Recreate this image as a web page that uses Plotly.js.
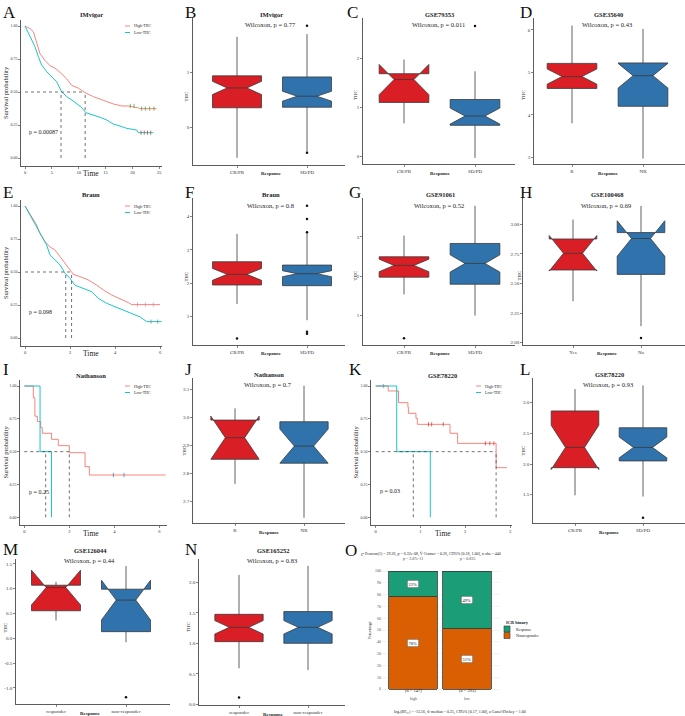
<!DOCTYPE html>
<html><head><meta charset="utf-8">
<script src="https://cdn.plot.ly/plotly-3.0.1.min.js"></script>
<style>html,body{margin:0;padding:0;background:#fff}#chart{width:685px;height:716px}</style>
</head><body><div id="chart"></div>
<script>
// ================= DATA =================
const kmGroups = ['High-TIIC','Low-TIIC'];
// A: IMvigor survival
const imHighT=[0,0.93,1.55,2.17,2.8,3.7,4.65,5.6,6.5,7.75,8.7,9.9,11.2,12.7,14,15.2,16.4,18,19.2,21.1,21.4,24.5];
const imHighS=[1,0.98,0.957,0.87,0.79,0.74,0.70,0.68,0.65,0.60,0.55,0.53,0.495,0.465,0.447,0.427,0.41,0.394,0.394,0.38,0.374,0.374];
const imLowT=[0,0.62,1.24,1.86,2.48,3.1,4.03,4.96,5.9,6.8,7.75,8.7,9.6,10.5,11.35,12.7,14,15.2,16.4,17.7,18.9,20.8,21.1,23.9];
const imLowS=[1,0.944,0.894,0.843,0.768,0.705,0.654,0.616,0.578,0.503,0.465,0.44,0.414,0.384,0.343,0.326,0.308,0.288,0.258,0.242,0.225,0.212,0.192,0.192];
const imCensHighT=[19.6,20.3,21.7,22.4,23.2,24.0], imCensHighS=[0.394,0.394,0.374,0.374,0.374,0.374];
const imCensLowT=[21.6,22.2,22.8,23.4], imCensLowS=[0.192,0.192,0.192,0.192];
const imMedians=[11.2,6.7], imP='p = 0.00087';
// E: Braun survival
const brHighT=[0,0.15,0.3,0.52,0.67,0.89,1.11,1.33,1.56,1.78,1.93,2.15,2.44,2.81,3.19,3.48,3.85,4.22,4.59,4.74,6.0];
const brHighS=[1,0.957,0.92,0.856,0.79,0.73,0.69,0.667,0.616,0.566,0.528,0.482,0.465,0.44,0.40,0.364,0.326,0.30,0.268,0.253,0.253];
const brLowT=[0,0.22,0.44,0.74,0.96,1.11,1.33,1.56,1.78,2.0,2.22,2.59,2.96,3.26,3.63,4.0,4.44,4.81,5.11,5.41,6.07];
const brLowS=[1,0.93,0.87,0.768,0.705,0.63,0.59,0.553,0.49,0.452,0.40,0.376,0.351,0.30,0.263,0.237,0.207,0.18,0.16,0.124,0.124];
const brCensHighT=[5.0,5.35,5.7], brCensHighS=[0.253,0.253,0.253];
const brCensLowT=[5.6,5.9], brCensLowS=[0.124,0.124];
const brMedians=[2.07,1.81], brP='p = 0.098';
// I: Nathanson survival
const naHighT=[0,0.4,0.47,0.58,0.73,0.8,1.21,1.51,2.0,2.7,2.89,6.28];
const naHighS=[1,0.911,0.77,0.73,0.683,0.64,0.594,0.546,0.492,0.386,0.322,0.322];
const naLowT=[0,0.7,1.21], naLowS=[1,0.5,0];
const naCensHighT=[3.96,4.43], naCensHighS=[0.322,0.322];
const naMedians=[2.0,0.95], naP='p = 0.25';
// K: GSE78220 survival
const hgHighT=[0,0.28,0.51,0.72,0.73,0.9,0.93,1.66,1.83,2.69,2.93];
const hgHighS=[1,0.962,0.873,0.838,0.792,0.754,0.708,0.64,0.563,0.378,0.378];
const hgLowT=[0,0.47,1.22], hgLowS=[1,0.5,0];
const hgCensHighT=[1.18,1.25,1.51,2.45,2.55,2.64], hgCensHighS=[0.708,0.708,0.708,0.563,0.563,0.563];
const hgCensLowT=[0.17], hgCensLowS=[1];
const hgMedians=[2.69,0.84], hgP='p = 0.03';

// Box panels: groups, q1, median, q3, lower whisker, upper whisker, notch half-span, outliers
const bGroups=['CR/PR','SD/PD'], bQ1=[0.35,0.36], bMed=[0.71,0.56], bQ3=[0.93,0.91], bLo=[-0.56,-0.45], bHi=[1.64,1.69], bNs=[0.12,0.09], bOutX=['SD/PD','SD/PD'], bOutY=[1.84,-0.47];
const cGroups=['CR/PR','SD/PD'], cQ1=[1.10,0.63], cMed=[1.57,0.82], cQ3=[1.69,1.16], cLo=[0.67,-0.04], cHi=[1.98,1.74], cNs=[0.31,0.165], cOutX=['SD/PD'], cOutY=[2.67];
const dGroups=['R','NR'], dQ1=[4.62,4.2], dMed=[4.9,4.92], dQ3=[5.21,5.22], dLo=[3.8,2.97], dHi=[6.1,6.02], dNs=[0.18,0.29], dOutX=[], dOutY=[];
const fGroups=['CR/PR','SD/PD'], fQ1=[1.94,1.92], fMed=[2.26,2.28], fQ3=[2.64,2.54], fLo=[1.37,0.88], fHi=[3.48,3.52], fNs=[0.18,0.09], fOutX=['CR/PR','SD/PD','SD/PD','SD/PD','SD/PD','SD/PD'], fOutY=[0.33,4.33,3.93,3.53,0.53,0.47];
const gGroups=['CR/PR','SD/PD'], gQ1=[1.97,1.79], gMed=[2.27,2.32], gQ3=[2.49,2.83], gLo=[1.53,0.99], gHi=[3.03,3.79], gNs=[0.16,0.22], gOutX=['CR/PR'], gOutY=[0.41];
const hGroups=['Yes','No'], hQ1=[2.614,2.577], hMed=[2.755,2.88], hQ3=[2.876,2.93], hLo=[2.35,2.14], hHi=[3.04,3.155], hNs=[0.15,0.15], hOutX=['No'], hOutY=[2.04];
const jGroups=['R','NR'], jQ1=[2.849,2.835], jMed=[2.926,2.896], jQ3=[2.989,2.983], jLo=[2.761,2.64], jHi=[3.031,3.112], jNs=[0.077,0.061], jOutX=[], jOutY=[];
const lGroups=['CR/PR','SD/PD'], lQ1=[1.94,2.05], lMed=[2.27,2.27], lQ3=[2.864,2.59], lLo=[1.49,1.47], lHi=[3.22,3.28], lNs=[0.36,0.17], lOutX=['SD/PD'], lOutY=[1.125];
const mGroups=['responder','non-responder'], mQ1=[0.555,0.134], mMed=[1.023,0.77], mQ3=[1.07,0.99], mLo=[0.36,-0.08], mHi=[1.14,1.46], mNs=[0.35,0.40], mOutX=['non-responder'], mOutY=[-1.19];
const nGroups=['responder','non-responder'], nQ1=[1.027,1.0], nMed=[1.262,1.262], nQ3=[1.475,1.52], nLo=[0.59,0.56], nHi=[2.12,2.27], nNs=[0.11,0.11], nOutX=['responder'], nOutY=[0.11];

const boxTitles=['IMvigor','GSE79353','GSE35640','Braun','GSE91061','GSE100468','Nathanson','GSE78220','GSE126044','GSE165252'];
const boxP=['Wilcoxon, p = 0.77','Wilcoxon, p = 0.011','Wilcoxon, p = 0.43','Wilcoxon, p = 0.8','Wilcoxon, p = 0.52','Wilcoxon, p = 0.69','Wilcoxon, p = 0.7','Wilcoxon, p = 0.93','Wilcoxon, p = 0.44','Wilcoxon, p = 0.83'];
const kmTitles=['IMvigor','Braun','Nathanson','GSE78220'];

// O: contingency bars
const oCats=['high','low'], oResp=[22,49], oNonresp=[78,51], oN=[147,293], oBarP=['p = 2.07e-11','p = 0.835'];
const oLegendNames=['Response','Nonresponder'];
const oLegendTitle='ICB binary';
const oTitle='χ² Pearson(1) = 29.26, p = 6.32e-08, V̂ Cramer = 0.26, CI95% [0.18, 1.00], n obs = 440';
const oCaption='logₑ(BF₀₁) = -13.56, ŵ median = 0.25, CI95% [0.17, 1.00], a Gunel-Dickey = 1.00';

// ================= BUILD =================
const W=685,H=716;
const FONT='"Liberation Serif","DejaVu Serif",serif';
const KM_RED='#F8766D', KM_TEAL='#00BFC4', BOX_RED='#D91E25', BOX_BLUE='#2F72AC', O_GREEN='#1B9E77', O_ORANGE='#D95F02';
const traces=[], annotations=[], shapes=[];
const layout={width:W,height:H,margin:{l:0,r:0,t:0,b:0},paper_bgcolor:'#fff',plot_bgcolor:'rgba(0,0,0,0)',
  barmode:'stack',hovermode:false,font:{family:FONT,color:'#222'},showlegend:false};
const xn=i=>i===1?'x':'x'+i, yn=i=>i===1?'y':'y'+i;
function rng(p0,p1,pa,va,pb,vb){const k=(vb-va)/(pb-pa);return [va+(p0-pa)*k, va+(p1-pa)*k];}
const baseAx={showgrid:false,zeroline:false,showline:true,linecolor:'#333',linewidth:0.8,ticks:'outside',ticklen:2,tickwidth:0.6,tickcolor:'#333',tickfont:{size:5,family:FONT,color:'#333'},fixedrange:true};
function axes(i,xDom,xcal,yDom,ycal,xo,yo){
  layout[i===1?'xaxis':'xaxis'+i]=Object.assign({},baseAx,{domain:[xDom[0]/W,xDom[1]/W],anchor:yn(i),range:rng(xDom[0],xDom[1],...xcal)},xo||{});
  layout[i===1?'yaxis':'yaxis'+i]=Object.assign({},baseAx,{domain:[1-yDom[1]/H,1-yDom[0]/H],anchor:xn(i),range:rng(yDom[1],yDom[0],...ycal)},yo||{});
}
function ann(px,py,text,size,o,bold){annotations.push(Object.assign({xref:'paper',yref:'paper',x:px/W,y:1-py/H,text:text,showarrow:false,font:{size:size,family:FONT,color:'#222',weight:bold?700:400},xanchor:'center',yanchor:'middle'},o||{}));}

// KM panel
function kmPanel(i,title,hT,hS,lT,lS,cHT,cHS,cLT,cLS,meds,p,shp,geo,xt){
  axes(i,geo.xDom,geo.xcal,geo.yDom,geo.ycal,{tickvals:xt,tickfont:{size:4.5,family:FONT,color:'#333'}},
    {tickvals:[0,0.25,0.5,0.75,1],ticktext:['0.00','0.25','0.50','0.75','1.00'],tickfont:{size:4,family:FONT,color:'#333'}});
  const xa=xn(i),ya=yn(i);
  const mx=Math.max(...meds);
  shapes.push({type:'line',xref:xa,yref:ya,x0:0,x1:mx,y0:0.5,y1:0.5,line:{color:'#333',width:0.7,dash:'dot'}});
  meds.forEach(m=>shapes.push({type:'line',xref:xa,yref:ya,x0:m,x1:m,y0:0,y1:0.5,line:{color:'#333',width:0.7,dash:'dot'}}));
  traces.push({type:'scatter',mode:'lines',x:hT,y:hS,line:{color:KM_RED,width:0.9,shape:shp},xaxis:xa,yaxis:ya,showlegend:false});
  traces.push({type:'scatter',mode:'lines',x:lT,y:lS,line:{color:KM_TEAL,width:0.9,shape:shp},xaxis:xa,yaxis:ya,showlegend:false});
  if(cHT.length) traces.push({type:'scatter',mode:'markers',x:cHT,y:cHS,marker:{symbol:'line-ns-open',size:3,line:{color:KM_RED,width:0.7}},xaxis:xa,yaxis:ya,showlegend:false});
  if(cLT.length) traces.push({type:'scatter',mode:'markers',x:cLT,y:cLS,marker:{symbol:'line-ns-open',size:3,line:{color:KM_TEAL,width:0.7}},xaxis:xa,yaxis:ya,showlegend:false});
  const cx=(geo.xDom[0]+geo.xDom[1])/2+geo.tdx;
  ann(cx,geo.yDom[0]-5,title,6.5,null,true);
  ann(cx,geo.yDom[1]+8,'Time',7.5);
  ann(geo.ylx,(geo.yDom[0]+geo.yDom[1])/2,'Survival probability',6.5,{textangle:-90});
  ann(geo.pX,geo.pY,p,6,{xanchor:'left'});
  [KM_RED,KM_TEAL].forEach((c,k)=>{
    const yy=geo.lgY+k*6.5;
    shapes.push({type:'line',xref:'paper',yref:'paper',x0:geo.lgX/W,x1:(geo.lgX+5)/W,y0:1-yy/H,y1:1-yy/H,line:{color:c,width:0.9}});
    ann(geo.lgX+7,yy,kmGroups[k],4,{xanchor:'left'});
  });
}
kmPanel(1,kmTitles[0],imHighT,imHighS,imLowT,imLowS,imCensHighT,imCensHighS,imCensLowT,imCensLowS,imMedians,imP,'linear',
  {xDom:[21,162],xcal:[25,0,159.3,25],yDom:[20,166],ycal:[158,0,26,1],tdx:0,ylx:5,pX:27,pY:132,lgX:125,lgY:26},[0,5,10,15,20,25]);
kmPanel(5,kmTitles[1],brHighT,brHighS,brLowT,brLowS,brCensHighT,brCensHighS,brCensLowT,brCensLowS,brMedians,brP,'linear',
  {xDom:[21,162],xcal:[25,0,160,6],yDom:[200,346],ycal:[338,0,206,1],tdx:0,ylx:5,pX:27,pY:312,lgX:125,lgY:206},[0,2,4,6]);
kmPanel(9,kmTitles[2],naHighT,naHighS,naLowT,naLowS,naCensHighT,naCensHighS,[],[],naMedians,naP,'hv',
  {xDom:[20,167],xcal:[24.3,0,159.3,6],yDom:[380,525],ycal:[517.3,0,386,1],tdx:-2,ylx:5,pX:27,pY:492,lgX:125,lgY:386},[0,2,4,6]);
kmPanel(11,kmTitles[3],hgHighT,hgHighS,hgLowT,hgLowS,hgCensHighT,hgCensHighS,hgCensLowT,hgCensLowS,hgMedians,hgP,'hv',
  {xDom:[371,512],xcal:[375.7,0,510,3],yDom:[380,525],ycal:[517.3,0,386,1],tdx:1,ylx:355,pX:378,pY:491,lgX:476,lgY:386},[0,1,2,3]);

// Box panel
function boxPanel(i,k,groups,q1,med,q3,lo,hi,ns,oX,oY,geo,yt,ytt){
  axes(i,geo.xDom,geo.xcal,geo.yDom,geo.ycal,{type:'category',categoryorder:'array',categoryarray:groups,tickfont:{size:5,family:FONT,color:'#333'}},
    Object.assign({tickvals:yt},ytt?{ticktext:ytt}:{}));
  const xa=xn(i),ya=yn(i),cols=[BOX_RED,BOX_BLUE];
  groups.forEach((g,j)=>traces.push({type:'box',x:[g],q1:[q1[j]],median:[med[j]],q3:[q3[j]],lowerfence:[lo[j]],upperfence:[hi[j]],
    notchspan:[ns[j]],notched:true,notchwidth:0.3,width:0.7,whiskerwidth:0,fillcolor:cols[j],line:{color:'#3a3a3a',width:0.8},
    xaxis:xa,yaxis:ya,showlegend:false}));
  if(oX.length) traces.push({type:'scatter',mode:'markers',x:oX,y:oY,marker:{color:'#111',size:2.5},xaxis:xa,yaxis:ya,showlegend:false});
  ann(geo.cx,geo.tY,boxTitles[k],6.5,null,true);
  ann(geo.cx-1,geo.tY+10,boxP[k],6.5);
  ann(geo.yl,(geo.yDom[0]+geo.yDom[1])/2+geo.yld,'TIIC',5,{textangle:-90});
  ann(geo.cx,geo.yDom[1]+9,'Response',5,null,true);
}
boxPanel(2,0,bGroups,bQ1,bMed,bQ3,bLo,bHi,bNs,bOutX,bOutY,{xDom:[193,345],xcal:[237,0,307,1],yDom:[18,165],ycal:[127,0,72,1],cx:271,tY:15,yl:186,yld:5},[0,1]);
boxPanel(3,1,cGroups,cQ1,cMed,cQ3,cLo,cHi,cNs,cOutX,cOutY,{xDom:[363,515],xcal:[404,0,475,1],yDom:[18,164],ycal:[156,0,107.3,1],cx:440,tY:15,yl:355,yld:4},[0,1,2]);
boxPanel(4,2,dGroups,dQ1,dMed,dQ3,dLo,dHi,dNs,dOutX,dOutY,{xDom:[534,685],xcal:[572,0,643,1],yDom:[18,164],ycal:[157.3,3,72.3,5],cx:608,tY:15,yl:523,yld:4},[3,4,5,6]);
boxPanel(6,3,fGroups,fQ1,fMed,fQ3,fLo,fHi,fNs,fOutX,fOutY,{xDom:[193,345],xcal:[237,0,307,1],yDom:[198,345],ycal:[283,2,249.8,3],cx:271,tY:195,yl:186,yld:5},[1,2,3,4]);
boxPanel(7,4,gGroups,gQ1,gMed,gQ3,gLo,gHi,gNs,gOutX,gOutY,{xDom:[363,515],xcal:[404,0,475,1],yDom:[198,345],ycal:[276,2,236.8,3],cx:440,tY:195,yl:355,yld:4},[1,2,3]);
boxPanel(8,5,hGroups,hQ1,hMed,hQ3,hLo,hHi,hNs,hOutX,hOutY,{xDom:[523,685],xcal:[573,0,641,1],yDom:[198,345],ycal:[342.7,2,224.3,3],cx:607,tY:195,yl:519,yld:4},[2,2.25,2.5,2.75,3],['2.00','2.25','2.50','2.75','3.00']);
boxPanel(10,6,jGroups,jQ1,jMed,jQ3,jLo,jHi,jNs,jOutX,jOutY,{xDom:[193,345],xcal:[235,0,304,1],yDom:[378,523],ycal:[417,3.0,389,3.1],cx:269,tY:374,yl:184,yld:0},[2.7,2.8,2.9,3.0,3.1],['2.7','2.8','2.9','3.0','3.1']);
boxPanel(12,7,lGroups,lQ1,lMed,lQ3,lLo,lHi,lNs,lOutX,lOutY,{xDom:[533,685],xcal:[575,0,643,1],yDom:[378,523],ycal:[464,2.0,433.3,2.5],cx:609,tY:374,yl:523,yld:0},[1.5,2,2.5,3],['1.5','2.0','2.5','3.0']);
boxPanel(13,8,mGroups,mQ1,mMed,mQ3,mLo,mHi,mNs,mOutX,mOutY,{xDom:[16,170],xcal:[56,0,126,1],yDom:[559,704],ycal:[638.3,0,588.7,1],cx:90,tY:550,yl:5,yld:-4},[-1,-0.5,0,0.5,1,1.5],['-1.0','-0.5','0.0','0.5','1.0','1.5']);
boxPanel(14,9,nGroups,nQ1,nMed,nQ3,nLo,nHi,nNs,nOutX,nOutY,{xDom:[199,345],xcal:[239,0,308,1],yDom:[559,705],ycal:[704.3,0,643.3,1],cx:273,tY:550,yl:188,yld:-5},[0,0.5,1,1.5,2],['0.0','0.5','1.0','1.5','2.0']);

// O panel
axes(15,[382,500],[413,0,467,1],[569,691],[689,0,571,100],
  {type:'category',categoryorder:'array',categoryarray:oCats,showline:false,ticks:'',showticklabels:false},
  {showline:false,ticks:'',showgrid:true,gridcolor:'#EBEBEB',gridwidth:0.6,tickvals:[0,10,20,30,40,50,60,70,80,90,100],ticksuffix:'%',tickfont:{size:4,family:FONT,color:'#555'}});
layout.xaxis15.showgrid=false;
traces.push({type:'bar',x:oCats,y:oNonresp,name:oLegendNames[1],width:0.9,marker:{color:O_ORANGE,line:{color:'#333',width:0.8}},xaxis:'x15',yaxis:'y15'});
traces.push({type:'bar',x:oCats,y:oResp,name:oLegendNames[0],width:0.9,marker:{color:O_GREEN,line:{color:'#333',width:0.8}},xaxis:'x15',yaxis:'y15'});
oCats.forEach((c,k)=>{
  annotations.push({xref:'x15',yref:'y15',x:k,y:oNonresp[k]/2,text:oNonresp[k]+'%',showarrow:false,font:{size:4.5,family:FONT,color:'#222'},bgcolor:'#fff',bordercolor:'#555',borderwidth:0.5,borderpad:1});
  annotations.push({xref:'x15',yref:'y15',x:k,y:oNonresp[k]+oResp[k]/2,text:oResp[k]+'%',showarrow:false,font:{size:4.5,family:FONT,color:'#222'},bgcolor:'#fff',bordercolor:'#555',borderwidth:0.5,borderpad:1});
  annotations.push({xref:'x15',yref:'paper',x:k,y:1-563/H,text:oBarP[k],showarrow:false,font:{size:4,family:FONT,color:'#444'}});
  annotations.push({xref:'x15',yref:'paper',x:k,y:1-695/H,text:'(n = '+oN[k]+')',showarrow:false,font:{size:4.5,family:FONT,color:'#222'}});
  annotations.push({xref:'x15',yref:'paper',x:k,y:1-703/H,text:c,showarrow:false,font:{size:4,family:FONT,color:'#555'}});
});
ann(431,554,oTitle,4);
ann(460,712,oCaption,4);
ann(369,630,'Percentage',4,{textangle:-90});
// O legend (manual)
ann(504,622,oLegendTitle,4.5,{xanchor:'left'},true);
[[O_GREEN,oLegendNames[0]],[O_ORANGE,oLegendNames[1]]].forEach((it,k)=>{
  const y0=626+k*6.5;
  shapes.push({type:'rect',xref:'paper',yref:'paper',x0:504/W,x1:510/W,y0:1-(y0+6)/H,y1:1-y0/H,fillcolor:it[0],line:{color:'#333',width:0.6}});
  ann(514,y0+3,it[1],4,{xanchor:'left'});
});

// Panel letters
[['A',1,1],['B',183,1],['C',345,1],['D',518,1],['E',1,181],['F',183,181],['G',347,181],['H',518,181],
 ['I',1,358],['J',183,358],['K',347,358],['L',518,358],['M',1,538],['N',183,538],['O',343,539]].forEach(l=>
  ann(l[1],l[2],l[0],17,{xanchor:'left',yanchor:'top',font:{size:17,family:'"Liberation Serif",serif',color:'#111'}}));

layout.annotations=annotations; layout.shapes=shapes;
Plotly.newPlot('chart',traces,layout,{staticPlot:true,displayModeBar:false});
</script></body></html>
